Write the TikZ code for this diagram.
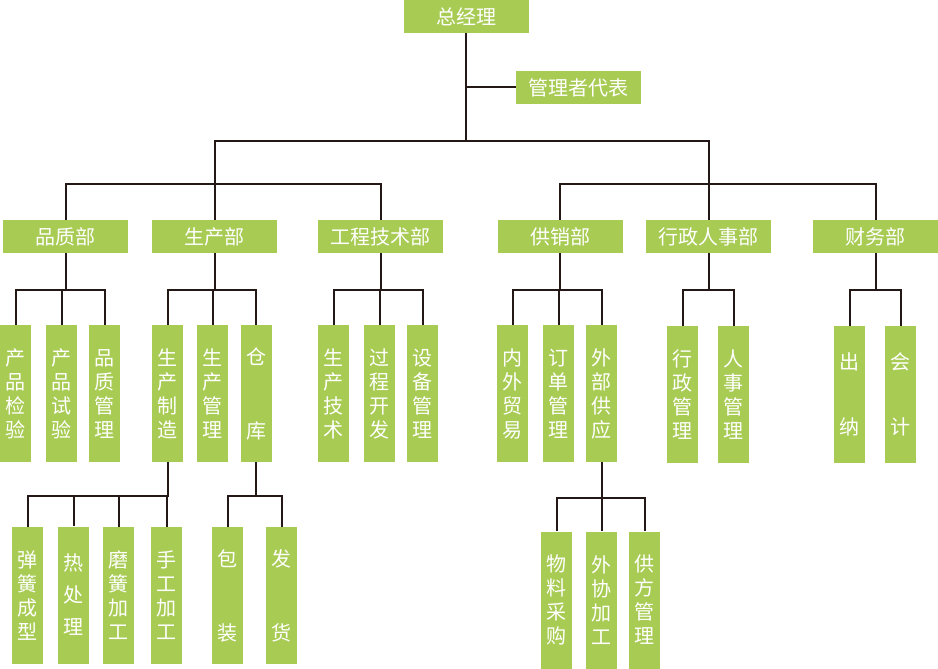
\documentclass[tikz,border=0pt]{standalone}
\usepackage{fontspec}
\newfontfamily\cjk{Noto Sans CJK SC}
\definecolor{boxgreen}{RGB}{168,203,84}
\definecolor{linec}{RGB}{35,24,21}
\begin{document}
\begin{tikzpicture}[x=1pt,y=-1pt,
  base/.style={fill=boxgreen,text=white,inner sep=0pt,align=center,font=\cjk\fontsize{20}{24}\selectfont},
  hbox/.style={base,minimum width=125pt,minimum height=33pt},
  vbox/.style={base,minimum width=31pt,minimum height=137pt},
  conn/.style={draw=linec,line width=2pt}]
\useasboundingbox (0,0) rectangle (938,669);
% top
\node[hbox] (gm) at (466,16.5) {总经理};
\node[hbox] (mr) at (578.5,87.5) {管理者代表};
% departments
\node[hbox] (qd) at (65.5,236.5) {品质部};
\node[hbox] (pd) at (214.5,236.5) {生产部};
\node[hbox] (gd) at (380.5,236.5) {工程技术部};
\node[hbox] (sd) at (560,236.5) {供销部};
\node[hbox] (xd) at (708.5,236.5) {行政人事部};
\node[hbox] (cd) at (875.5,236.5) {财务部};
% second level
\node[vbox] (q1) at (15.5,393.5) {产\\品\\检\\验};
\node[vbox] (q2) at (61.5,393.5) {产\\品\\试\\验};
\node[vbox] (q3) at (104.5,393.5) {品\\质\\管\\理};
\node[vbox] (p1) at (167.5,393.5) {生\\产\\制\\造};
\node[vbox] (p2) at (212.5,393.5) {生\\产\\管\\理};
\node[vbox] (p3) at (256,393.5) {仓\\[50pt]库};
\node[vbox] (g1) at (333.5,393.5) {生\\产\\技\\术};
\node[vbox] (g2) at (379.5,393.5) {过\\程\\开\\发};
\node[vbox] (g3) at (422.5,393.5) {设\\备\\管\\理};
\node[vbox] (s1) at (512.5,393.5) {内\\外\\贸\\易};
\node[vbox] (s2) at (558.5,393.5) {订\\单\\管\\理};
\node[vbox] (s3) at (601.5,393.5) {外\\部\\供\\应};
\node[vbox] (x1) at (682.5,394.5) {行\\政\\管\\理};
\node[vbox] (x2) at (733.5,394.5) {人\\事\\管\\理};
\node[vbox] (c1) at (849.5,394.5) {出\\[41pt]纳};
\node[vbox] (c2) at (900.5,394.5) {会\\[41pt]计};
% third level
\node[vbox] (m1) at (27.5,595.5) {弹\\簧\\成\\型};
\node[vbox] (m2) at (73.5,595) {热\\[8pt]处\\[8pt]理};
\node[vbox] (m3) at (118.5,595.5) {磨\\簧\\加\\工};
\node[vbox] (m4) at (166.5,595.5) {手\\工\\加\\工};
\node[vbox] (w1) at (227.5,595.5) {包\\[50pt]装};
\node[vbox] (w2) at (281.5,595.5) {发\\[50pt]货};
\node[vbox] (t1) at (556.5,600) {物\\料\\采\\购};
\node[vbox] (t2) at (601.5,600) {外\\协\\加\\工};
\node[vbox] (t3) at (644.5,600) {供\\方\\管\\理};
% connectors
\coordinate (j1) at (466,141);
\coordinate (j2) at (0,184);
\draw[conn] (gm.south) -- (gm.south |- j1);
\draw[conn] (mr.west) -- (mr.west -| gm.south);
\draw[conn] (pd.north) |- (xd.north |- j1) -- (xd.north);
\draw[conn] (qd.north) |- (gd.north |- j2) -- (gd.north);
\draw[conn] (sd.north) |- (cd.north |- j2) -- (cd.north);
\foreach \p/\cs in {qd/{q1,q2,q3},pd/{p1,p2,p3},gd/{g1,g2,g3},sd/{s1,s2,s3},xd/{x1,x2},cd/{c1,c2}}{
  \foreach \c in \cs {\draw[conn] (\p.south) -- ++(0,37) -| (\c.north);}
}
\foreach \c in {m1,m2,m3,m4} {\draw[conn] (p1.south) -- ++(0,33.5) -| (\c.north);}
\foreach \c in {w1,w2} {\draw[conn] (p3.south) -- ++(0,33.5) -| (\c.north);}
\foreach \c in {t1,t2,t3} {\draw[conn] (s3.south) -- ++(0,35.5) -| (\c.north);}
\end{tikzpicture}
\end{document}
